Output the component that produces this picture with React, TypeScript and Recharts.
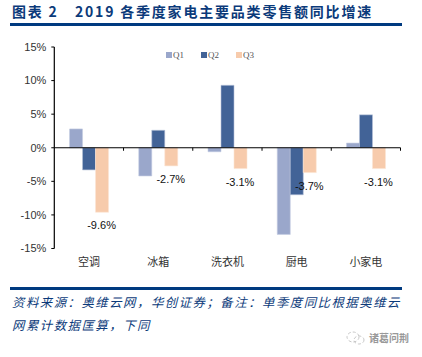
import React from "react";
import { BarChart, Bar, XAxis, YAxis, Legend, ReferenceLine, LabelList } from "recharts";

const categories = ["空调", "冰箱", "洗衣机", "厨电", "小家电"];
const q1 = [2.8, -4.2, -0.6, -12.9, 0.7];
const q2 = [-3.3, 2.6, 9.3, -7.0, 4.9];
const q3 = [-9.6, -2.7, -3.1, -3.7, -3.1];
const yTicks = [-15, -10, -5, 0, 5, 10, 15];
const titleText = "图表 2";
const titleRest = "2019 各季度家电主要品类零售额同比增速";
const sourceLine1 = "资料来源：奥维云网，华创证券；备注：单季度同比根据奥维云";
const sourceLine2 = "网累计数据匡算，下同";
const watermark = "诸葛问荆";
const data = categories.map((name, i) => ({ name, Q1: q1[i], Q2: q2[i], Q3: q3[i] }));

const NAVY = "#0b3a7a";
const latin = "'Liberation Sans', 'Noto Sans CJK SC'";
const sourceStyle: React.CSSProperties = { position: "absolute", left: 12, color: NAVY, fontFamily: "'Noto Sans CJK SC'", fontStyle: "italic", fontSize: 12.4, letterSpacing: 1.5, lineHeight: "20px", whiteSpace: "pre" };

const ZeroAxis = (props: any) => {
  const { x1, x2, y1 } = props;
  const step = (x2 - x1) / categories.length;
  return (
    <g>
      <line x1={x1} x2={x2} y1={y1} y2={y1} stroke="#000" strokeWidth={1.2} />
      {categories.map((c, i) => (
        <line key={c} x1={x1 + step * (i + 1)} x2={x1 + step * (i + 1)} y1={y1} y2={y1 + 3} stroke="#000" strokeWidth={1} />
      ))}
    </g>
  );
};

const Q3Label = (props: any) => {
  const { x, y, width, height, value } = props;
  const bottom = Math.max(y, y + height);
  return (
    <text x={x + width / 2 - 0.5} y={bottom + 17} textAnchor="middle" fontSize={11} fontFamily={latin} fill="#111">
      {value.toFixed(1)}%
    </text>
  );
};

const LegendBox = (props: any) => (
  <div style={{ display: "flex", fontFamily: "'Liberation Serif'", fontSize: 9, lineHeight: "12px", color: "#555" }}>
    {(props.payload || []).map((p: any) => (
      <div key={p.value} style={{ display: "flex", alignItems: "center", width: 35 }}>
        <span style={{ display: "inline-block", width: 6, height: 6, background: p.color, marginRight: 1 }} />
        <span>{p.value}</span>
      </div>
    ))}
  </div>
);

export default function App() {
  return (
    <div style={{ position: "absolute", left: 0, top: 0, width: 422, height: 357, background: "#fff", overflow: "hidden" }}>
      <div style={{ position: "absolute", left: 12, top: 1, color: NAVY, fontFamily: "'Noto Sans CJK SC'", fontWeight: 700, fontSize: 14, letterSpacing: 1.8, whiteSpace: "pre", lineHeight: "20px" }}>
        {titleText}
      </div>
      <div style={{ position: "absolute", left: 75, top: 1, color: NAVY, fontFamily: "'Noto Sans CJK SC'", fontWeight: 700, fontSize: 14, letterSpacing: 1.8, whiteSpace: "pre", lineHeight: "20px" }}>
        {titleRest}
      </div>
      <div style={{ position: "absolute", left: 10, top: 23, width: 392, height: 3, background: "#003a80" }} />
      <BarChart
        width={422}
        height={357}
        data={data}
        margin={{ top: 35, right: 21.5, left: 0, bottom: 88.5 }}
        barCategoryGap="22%"
        barGap={0}
        style={{ position: "absolute", left: 0, top: 0 }}
      >
        <XAxis
          dataKey="name"
          height={20}
          axisLine={false}
          tickLine={false}
          interval={0}
          tick={{ fontSize: 11, fontFamily: "'Noto Sans CJK SC'", fill: "#333" }}
          tickMargin={4}
        />
        <YAxis
          width={54.3}
          domain={[-15, 15]}
          ticks={yTicks}
          interval={0}
          tickFormatter={(v: number) => `${v}%`}
          tick={{ fontSize: 11, fontFamily: latin, fill: "#333" }}
          axisLine={{ stroke: "#000", strokeWidth: 1.2 }}
          tickLine={{ stroke: "#000" }}
          tickSize={3}
          tickMargin={5}
        />
        <Legend
          verticalAlign="top"
          content={<LegendBox />}
          wrapperStyle={{ position: "absolute", left: 166, top: 49, width: 110 }}
        />
        <Bar dataKey="Q1" fill="#9aa7cb" stroke="#c5cde2" strokeWidth={0.6} isAnimationActive={false} />
        <Bar dataKey="Q2" fill="#426397" stroke="#b5c1d8" strokeWidth={0.6} isAnimationActive={false} />
        <Bar dataKey="Q3" fill="#f7cbac" stroke="#fbe5d5" strokeWidth={0.6} isAnimationActive={false}>
          <LabelList dataKey="Q3" content={<Q3Label />} />
        </Bar>
        <ReferenceLine y={0} shape={<ZeroAxis />} />
      </BarChart>
      <div style={{ position: "absolute", left: 10, top: 287, width: 392, height: 2.5, background: "#003a80" }} />
      <div style={{ ...sourceStyle, top: 292 }}>{sourceLine1}</div>
      <div style={{ ...sourceStyle, top: 315 }}>{sourceLine2}</div>
      <svg style={{ position: "absolute", left: 345, top: 330 }} width={22} height={16}>
        <ellipse cx={8} cy={7} rx={6} ry={5} fill="none" stroke="#c8c8c8" strokeWidth={1} strokeDasharray="3 2" />
        <ellipse cx={14} cy={10} rx={5} ry={4} fill="none" stroke="#c8c8c8" strokeWidth={1} strokeDasharray="3 2" />
      </svg>
      <div style={{ position: "absolute", left: 369, top: 331, color: "#999", fontFamily: "'Noto Sans CJK SC'", fontWeight: 700, fontSize: 10, lineHeight: "14px", whiteSpace: "pre" }}>
        {watermark}
      </div>
    </div>
  );
}
